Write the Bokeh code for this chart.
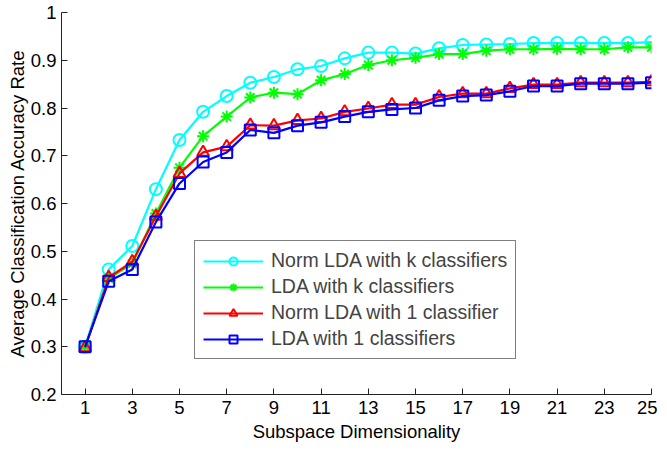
from bokeh.plotting import figure
from bokeh.models import Range1d, FixedTicker, Legend, LegendItem
from bokeh.embed import file_html
from bokeh.resources import INLINE

dims = list(range(1, 26))
norm_lda_k = [0.300, 0.462, 0.511, 0.630, 0.733, 0.792, 0.825, 0.853, 0.865, 0.881, 0.888, 0.904,
              0.916, 0.916, 0.914, 0.925, 0.932, 0.933, 0.934, 0.936, 0.936, 0.936, 0.936, 0.936, 0.938]
lda_k = [0.300, 0.443, 0.474, 0.579, 0.675, 0.741, 0.782, 0.822, 0.832, 0.829, 0.858, 0.871,
         0.890, 0.900, 0.905, 0.913, 0.913, 0.920, 0.923, 0.923, 0.924, 0.923, 0.923, 0.927, 0.927]
norm_lda_1 = [0.298, 0.445, 0.478, 0.573, 0.663, 0.707, 0.719, 0.764, 0.763, 0.774, 0.778, 0.792,
              0.799, 0.807, 0.807, 0.823, 0.830, 0.830, 0.841, 0.849, 0.849, 0.853, 0.853, 0.853, 0.855]
lda_1 = [0.300, 0.437, 0.462, 0.561, 0.642, 0.687, 0.707, 0.754, 0.748, 0.763, 0.770, 0.782,
         0.792, 0.797, 0.800, 0.816, 0.825, 0.827, 0.835, 0.846, 0.846, 0.851, 0.851, 0.851, 0.853]

x_ticks = list(range(1, 26, 2))
y_ticks = [0.2, 0.3, 0.4, 0.5, 0.6, 0.7, 0.8, 0.9, 1.0]
labels = ["Norm LDA with k classifiers", "LDA with k classifiers",
          "Norm LDA with 1 classifier", "LDA with 1 classifiers"]

FONT = "Liberation Sans"

p = figure(frame_width=590, frame_height=382, output_backend="svg", toolbar_location=None,
           x_range=Range1d(0, 25), y_range=Range1d(0.2, 1.0),
           min_border_left=61, min_border_top=12, min_border_right=6, min_border_bottom=50)
p.outline_line_color = None
p.grid.visible = False

for ax in (p.xaxis[0], p.yaxis[0]):
    ax.major_tick_in = 6
    ax.major_tick_out = 0
    ax.minor_tick_line_color = None
    ax.axis_line_color = "#222222"
    ax.major_tick_line_color = "#222222"
    ax.major_label_text_font = FONT
    ax.major_label_text_font_size = "18.5px"
    ax.major_label_text_color = "black"
    ax.axis_label_text_font = FONT
    ax.axis_label_text_font_size = "18.5px"
    ax.axis_label_text_font_style = "normal"
    ax.axis_label_text_color = "black"

p.xaxis.ticker = FixedTicker(ticks=x_ticks)
p.yaxis.ticker = FixedTicker(ticks=y_ticks)
p.yaxis.major_label_overrides = {1.0: "1"}
p.xaxis.axis_label = "Subspace Dimensionality"
p.yaxis.axis_label = "Average Classification Accuracy Rate"
p.xaxis.major_label_standoff = 6
p.yaxis.major_label_standoff = 5
p.xaxis.axis_label_standoff = 4
p.yaxis.axis_label_standoff = 0

series = [
    (norm_lda_k, "#00FFFF", "circle"),
    (lda_k, "#00FF00", "asterisk"),
    (norm_lda_1, "#FF0000", "triangle"),
    (lda_1, "#0000FF", "square"),
]
items = []
for (ys, col, mk), lab in zip(series, labels):
    ln = p.line(dims, ys, line_color=col, line_width=2.2)
    sc = p.scatter(dims, ys, marker=mk, size=12 if mk != "square" else 11,
                   line_color=col, fill_color=None, line_width=2)
    items.append(LegendItem(label=lab, renderers=[ln, sc]))

legend = Legend(items=items, location=(133, 35), padding=8, spacing=3,
                glyph_width=60, glyph_height=20, label_standoff=8,
                label_text_font=FONT, label_text_font_size="19.5px",
                border_line_color="black", border_line_width=1,
                background_fill_alpha=1.0, margin=0)
p.add_layout(legend, "center")

open("out.html", "w").write(file_html(p, INLINE))
